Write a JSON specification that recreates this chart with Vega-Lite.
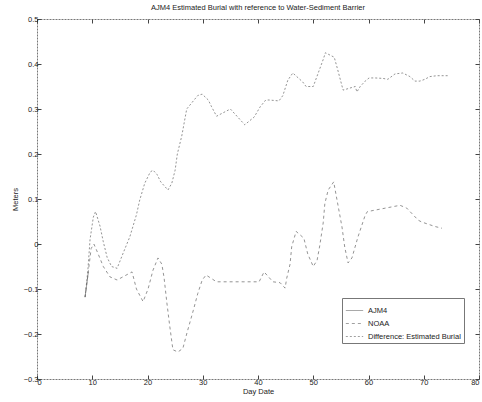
{
  "$schema": "https://vega.github.io/schema/vega-lite/v6.json",
  "autosize": "none",
  "width": 442,
  "height": 360,
  "padding": {"left": 37, "top": 19, "right": 3, "bottom": 23},
  "background": "white",
  "config": {
    "font": "Liberation Sans",
    "view": {"stroke": "#777", "strokeWidth": 1, "strokeDash": [2, 1]},
    "axis": {"grid": false, "domain": false, "tickColor": "#444", "tickSize": -4, "labelPadding": 3, "labelFontSize": 7.5, "labelColor": "#222", "titleFontSize": 7.5, "titleColor": "#222", "titleFontWeight": "normal"}
  },
  "title": {"text": "AJM4 Estimated Burial with reference to Water-Sediment Barrier", "fontSize": 7.5, "fontWeight": "normal", "color": "#222", "offset": 4, "anchor": "middle"},
  "data": {"values": [
    {"day": 8.7, "m": -0.118, "series": "AJM4"},
    {"day": 9.0, "m": -0.09, "series": "AJM4"},
    {"day": 9.3, "m": -0.062, "series": "AJM4"},

    {"day": 8.7, "m": -0.118, "series": "NOAA"},
    {"day": 9.3, "m": -0.06, "series": "NOAA"},
    {"day": 9.8, "m": -0.01, "series": "NOAA"},
    {"day": 10.3, "m": 0.0, "series": "NOAA"},
    {"day": 11.0, "m": -0.02, "series": "NOAA"},
    {"day": 12.0, "m": -0.05, "series": "NOAA"},
    {"day": 13.2, "m": -0.073, "series": "NOAA"},
    {"day": 14.5, "m": -0.08, "series": "NOAA"},
    {"day": 16.0, "m": -0.07, "series": "NOAA"},
    {"day": 17.2, "m": -0.062, "series": "NOAA"},
    {"day": 18.0, "m": -0.1, "series": "NOAA"},
    {"day": 19.2, "m": -0.128, "series": "NOAA"},
    {"day": 20.1, "m": -0.1, "series": "NOAA"},
    {"day": 21.0, "m": -0.058, "series": "NOAA"},
    {"day": 21.9, "m": -0.031, "series": "NOAA"},
    {"day": 22.6, "m": -0.045, "series": "NOAA"},
    {"day": 23.0, "m": -0.075, "series": "NOAA"},
    {"day": 23.5, "m": -0.13, "series": "NOAA"},
    {"day": 24.0, "m": -0.18, "series": "NOAA"},
    {"day": 24.6, "m": -0.235, "series": "NOAA"},
    {"day": 25.5, "m": -0.24, "series": "NOAA"},
    {"day": 26.4, "m": -0.232, "series": "NOAA"},
    {"day": 27.2, "m": -0.195, "series": "NOAA"},
    {"day": 28.3, "m": -0.147, "series": "NOAA"},
    {"day": 29.1, "m": -0.11, "series": "NOAA"},
    {"day": 29.9, "m": -0.08, "series": "NOAA"},
    {"day": 30.6, "m": -0.069, "series": "NOAA"},
    {"day": 32.5, "m": -0.084, "series": "NOAA"},
    {"day": 37.3, "m": -0.084, "series": "NOAA"},
    {"day": 40.2, "m": -0.084, "series": "NOAA"},
    {"day": 41.1, "m": -0.062, "series": "NOAA"},
    {"day": 42.7, "m": -0.084, "series": "NOAA"},
    {"day": 44.0, "m": -0.086, "series": "NOAA"},
    {"day": 44.9, "m": -0.098, "series": "NOAA"},
    {"day": 45.2, "m": -0.076, "series": "NOAA"},
    {"day": 45.8, "m": -0.045, "series": "NOAA"},
    {"day": 46.1, "m": -0.006, "series": "NOAA"},
    {"day": 46.9, "m": 0.028, "series": "NOAA"},
    {"day": 48.3, "m": 0.013, "series": "NOAA"},
    {"day": 49.0, "m": -0.022, "series": "NOAA"},
    {"day": 50.0, "m": -0.05, "series": "NOAA"},
    {"day": 50.7, "m": -0.036, "series": "NOAA"},
    {"day": 51.2, "m": -0.002, "series": "NOAA"},
    {"day": 51.8, "m": 0.047, "series": "NOAA"},
    {"day": 52.1, "m": 0.09, "series": "NOAA"},
    {"day": 52.7, "m": 0.12, "series": "NOAA"},
    {"day": 53.7, "m": 0.138, "series": "NOAA"},
    {"day": 54.3, "m": 0.098, "series": "NOAA"},
    {"day": 55.2, "m": 0.038, "series": "NOAA"},
    {"day": 55.7, "m": -0.007, "series": "NOAA"},
    {"day": 56.3, "m": -0.042, "series": "NOAA"},
    {"day": 57.0, "m": -0.031, "series": "NOAA"},
    {"day": 58.1, "m": 0.016, "series": "NOAA"},
    {"day": 59.4, "m": 0.064, "series": "NOAA"},
    {"day": 59.8, "m": 0.072, "series": "NOAA"},
    {"day": 65.7, "m": 0.086, "series": "NOAA"},
    {"day": 66.9, "m": 0.08, "series": "NOAA"},
    {"day": 69.0, "m": 0.053, "series": "NOAA"},
    {"day": 69.6, "m": 0.049, "series": "NOAA"},
    {"day": 72.0, "m": 0.039, "series": "NOAA"},
    {"day": 73.3, "m": 0.035, "series": "NOAA"},

    {"day": 8.7, "m": -0.118, "series": "Difference: Estimated Burial"},
    {"day": 9.2, "m": -0.06, "series": "Difference: Estimated Burial"},
    {"day": 9.6, "m": 0.01, "series": "Difference: Estimated Burial"},
    {"day": 10.2, "m": 0.06, "series": "Difference: Estimated Burial"},
    {"day": 10.6, "m": 0.072, "series": "Difference: Estimated Burial"},
    {"day": 11.4, "m": 0.04, "series": "Difference: Estimated Burial"},
    {"day": 12.0, "m": 0.005, "series": "Difference: Estimated Burial"},
    {"day": 12.7, "m": -0.03, "series": "Difference: Estimated Burial"},
    {"day": 13.5, "m": -0.05, "series": "Difference: Estimated Burial"},
    {"day": 14.5, "m": -0.054, "series": "Difference: Estimated Burial"},
    {"day": 15.6, "m": -0.02, "series": "Difference: Estimated Burial"},
    {"day": 16.8, "m": 0.016, "series": "Difference: Estimated Burial"},
    {"day": 18.0, "m": 0.065, "series": "Difference: Estimated Burial"},
    {"day": 18.6, "m": 0.098, "series": "Difference: Estimated Burial"},
    {"day": 19.5, "m": 0.135, "series": "Difference: Estimated Burial"},
    {"day": 20.5, "m": 0.16, "series": "Difference: Estimated Burial"},
    {"day": 21.0, "m": 0.164, "series": "Difference: Estimated Burial"},
    {"day": 21.7, "m": 0.155, "series": "Difference: Estimated Burial"},
    {"day": 22.4, "m": 0.138, "series": "Difference: Estimated Burial"},
    {"day": 23.7, "m": 0.12, "series": "Difference: Estimated Burial"},
    {"day": 24.4, "m": 0.135, "series": "Difference: Estimated Burial"},
    {"day": 25.0, "m": 0.164, "series": "Difference: Estimated Burial"},
    {"day": 25.4, "m": 0.2, "series": "Difference: Estimated Burial"},
    {"day": 26.2, "m": 0.24, "series": "Difference: Estimated Burial"},
    {"day": 26.8, "m": 0.28, "series": "Difference: Estimated Burial"},
    {"day": 27.1, "m": 0.3, "series": "Difference: Estimated Burial"},
    {"day": 29.1, "m": 0.33, "series": "Difference: Estimated Burial"},
    {"day": 29.9, "m": 0.333, "series": "Difference: Estimated Burial"},
    {"day": 31.0, "m": 0.32, "series": "Difference: Estimated Burial"},
    {"day": 31.6, "m": 0.305, "series": "Difference: Estimated Burial"},
    {"day": 32.5, "m": 0.284, "series": "Difference: Estimated Burial"},
    {"day": 35.0, "m": 0.3, "series": "Difference: Estimated Burial"},
    {"day": 37.6, "m": 0.265, "series": "Difference: Estimated Burial"},
    {"day": 39.3, "m": 0.282, "series": "Difference: Estimated Burial"},
    {"day": 40.4, "m": 0.305, "series": "Difference: Estimated Burial"},
    {"day": 41.4, "m": 0.32, "series": "Difference: Estimated Burial"},
    {"day": 42.0, "m": 0.32, "series": "Difference: Estimated Burial"},
    {"day": 43.8, "m": 0.318, "series": "Difference: Estimated Burial"},
    {"day": 44.5, "m": 0.33, "series": "Difference: Estimated Burial"},
    {"day": 45.4, "m": 0.364, "series": "Difference: Estimated Burial"},
    {"day": 46.3, "m": 0.38, "series": "Difference: Estimated Burial"},
    {"day": 48.1, "m": 0.36, "series": "Difference: Estimated Burial"},
    {"day": 48.7, "m": 0.35, "series": "Difference: Estimated Burial"},
    {"day": 50.0, "m": 0.35, "series": "Difference: Estimated Burial"},
    {"day": 50.9, "m": 0.38, "series": "Difference: Estimated Burial"},
    {"day": 51.8, "m": 0.41, "series": "Difference: Estimated Burial"},
    {"day": 52.2, "m": 0.425, "series": "Difference: Estimated Burial"},
    {"day": 53.8, "m": 0.415, "series": "Difference: Estimated Burial"},
    {"day": 54.3, "m": 0.393, "series": "Difference: Estimated Burial"},
    {"day": 54.8, "m": 0.37, "series": "Difference: Estimated Burial"},
    {"day": 55.4, "m": 0.342, "series": "Difference: Estimated Burial"},
    {"day": 57.6, "m": 0.35, "series": "Difference: Estimated Burial"},
    {"day": 57.9, "m": 0.338, "series": "Difference: Estimated Burial"},
    {"day": 58.5, "m": 0.35, "series": "Difference: Estimated Burial"},
    {"day": 59.4, "m": 0.362, "series": "Difference: Estimated Burial"},
    {"day": 60.1, "m": 0.369, "series": "Difference: Estimated Burial"},
    {"day": 61.2, "m": 0.369, "series": "Difference: Estimated Burial"},
    {"day": 62.6, "m": 0.368, "series": "Difference: Estimated Burial"},
    {"day": 63.5, "m": 0.366, "series": "Difference: Estimated Burial"},
    {"day": 64.8, "m": 0.378, "series": "Difference: Estimated Burial"},
    {"day": 66.2, "m": 0.38, "series": "Difference: Estimated Burial"},
    {"day": 67.5, "m": 0.372, "series": "Difference: Estimated Burial"},
    {"day": 68.4, "m": 0.362, "series": "Difference: Estimated Burial"},
    {"day": 69.3, "m": 0.362, "series": "Difference: Estimated Burial"},
    {"day": 70.2, "m": 0.366, "series": "Difference: Estimated Burial"},
    {"day": 71.1, "m": 0.372, "series": "Difference: Estimated Burial"},
    {"day": 72.4, "m": 0.374, "series": "Difference: Estimated Burial"},
    {"day": 73.5, "m": 0.374, "series": "Difference: Estimated Burial"},
    {"day": 74.4, "m": 0.374, "series": "Difference: Estimated Burial"}
  ]},
  "layer": [
    {
      "mark": {"type": "line", "color": "#666", "strokeWidth": 0.7},
      "encoding": {
        "x": {"field": "day", "type": "quantitative", "scale": {"domain": [0, 80], "nice": false},
              "axis": {"orient": "bottom", "title": "Day Date", "values": [0,10,20,30,40,50,60,70,80], "titlePadding": 2}},
        "y": {"field": "m", "type": "quantitative", "scale": {"domain": [-0.3, 0.5], "nice": false, "zero": false},
              "axis": {"orient": "left", "title": "Meters", "values": [-0.3,-0.2,-0.1,0,0.1,0.2,0.3,0.4,0.5],
                       "labelExpr": "datum.value == 0 ? '0' : format(datum.value, '.1f')", "titlePadding": 4}},
        "detail": {"field": "series"},
        "strokeDash": {"field": "series", "type": "nominal",
          "scale": {"domain": ["AJM4", "NOAA", "Difference: Estimated Burial"], "range": [[1, 0], [3, 3], [2, 2]]},
          "legend": {"title": null, "orient": "none", "legendX": 305, "legendY": 279,
                     "fillColor": "white", "strokeColor": "#777", "padding": 3,
                     "labelFontSize": 7.5, "labelColor": "#222", "symbolType": "stroke",
                     "symbolStrokeColor": "#777", "symbolStrokeWidth": 0.7, "symbolSize": 300, "rowPadding": 0}}
      }
    },
    {
      "mark": {"type": "line", "opacity": 0},
      "encoding": {
        "x": {"field": "day", "type": "quantitative", "axis": {"orient": "top", "labels": false, "title": null, "values": [0,10,20,30,40,50,60,70,80]}},
        "y": {"field": "m", "type": "quantitative", "axis": {"orient": "right", "labels": false, "title": null, "values": [-0.3,-0.2,-0.1,0,0.1,0.2,0.3,0.4,0.5]}},
        "detail": {"field": "series"}
      }
    }
  ]
}
